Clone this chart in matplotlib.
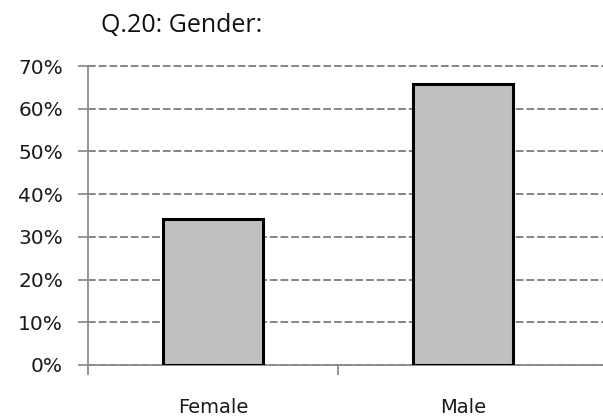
import matplotlib
matplotlib.use("Agg")
import matplotlib.pyplot as plt
from matplotlib.ticker import FuncFormatter

categories = ["Female", "Male"]
shares = [34.2, 65.8]
y_ticks = [0, 10, 20, 30, 40, 50, 60, 70]
title = "Q.20: Gender:"

fig = plt.figure(figsize=(6.03, 4.16), dpi=100)
ax = fig.add_axes([88 / 603, 1 - 365 / 416, 1 - 88 / 603, (365 - 66) / 416])

x = list(range(len(categories)))
ax.bar(x, shares, width=0.4, color="#c0c0c0", edgecolor="black",
       linewidth=2.2, zorder=3)

ax.set_ylim(0, 70)
ax.set_xlim(-0.5, 1.56)
ax.set_yticks(y_ticks)
ax.yaxis.set_major_formatter(FuncFormatter(lambda v, p: f"{v:.0f}%"))
ax.yaxis.grid(True, color="#858585", linestyle=(0, (4, 1.5)), linewidth=1.4, zorder=0)
for gl in ax.get_ygridlines():
    gl.set_clip_on(False)
ax.set_axisbelow(True)

# boundary ticks on the category axis, labels on minor ticks at bar centres
ax.set_xticks([-0.5, 0.5])
ax.set_xticklabels([])
ax.set_xticks(x, minor=True)
ax.set_xticklabels(categories, minor=True)
ax.tick_params(axis="x", which="major", length=7, width=1.3, color="#8c8c8c", direction="out")
ax.tick_params(axis="x", which="minor", length=0, pad=24, labelsize=14, labelcolor="#1a1a1a")
ax.tick_params(axis="y", length=7, width=1.3, color="#8c8c8c", direction="out",
               pad=11, labelsize=14.5, labelcolor="#1a1a1a")

for side in ("top", "right"):
    ax.spines[side].set_visible(False)
for side in ("left", "bottom"):
    ax.spines[side].set_color("#8c8c8c")
    ax.spines[side].set_linewidth(1.3)

fig.text(182 / 603, 1 - 26 / 416, title, ha="center", va="center",
         fontsize=18, family="Open Sans", color="#111111")

fig.savefig("out.png", dpi=100)
